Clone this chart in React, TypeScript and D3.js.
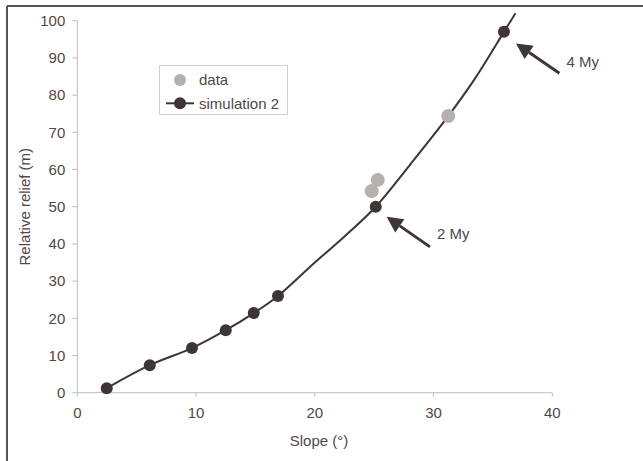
import React from "react";
import * as d3 from "d3";

const simSlope = [2.48, 6.1, 9.66, 12.5, 14.86, 16.9, 25.13, 35.93];
const simRelief = [1.2, 7.4, 12.0, 16.8, 21.4, 26.0, 50.0, 97.0];

const curveSlope = [2.48, 6.1, 9.66, 12.5, 14.86, 16.9, 20.0, 22.5, 25.13, 28.0, 31.2, 33.5, 35.93, 36.9];
const curveRelief = [1.2, 7.4, 12.0, 16.8, 21.4, 26.0, 35.0, 42.0, 50.0, 61.2, 74.2, 84.5, 97.0, 102.0];

const dataSlope = [24.79, 25.3, 31.24];
const dataRelief = [54.2, 57.2, 74.4];

const xTicks = [0, 10, 20, 30, 40];
const yTicks = [0, 10, 20, 30, 40, 50, 60, 70, 80, 90, 100];

const annLabels = ["2 My", "4 My"];
const annTipSlope = [26.05, 36.94];
const annTipRelief = [47.3, 93.9];
const annTailSlope = [29.7, 40.6];
const annTailRelief = [39.2, 85.9];
const annTextSlope = [30.3, 41.2];
const annTextRelief = [42.6, 89.0];

const W = 643;
const H = 461;
const FONT = "'Liberation Sans', Arial, sans-serif";
const TXT = "#4f4848";
const DARK = "#3e3536";
const GREY = "#b7b0ac";
const AXIS = "#bdbdbd";
const FS = 15;

export default function App() {
  const x = d3.scaleLinear().domain([0, 40]).range([77.3, 552.3]);
  const y = d3.scaleLinear().domain([0, 100]).range([392.7, 20.7]);

  const line = d3
    .line<number>()
    .x((i) => x(curveSlope[i]))
    .y((i) => y(curveRelief[i]))
    .curve(d3.curveCatmullRom.alpha(0.5));
  const path = line(curveSlope.map((_, i) => i)) || "";

  const arrows = annLabels.map((lab, i) => {
    const x1 = x(annTailSlope[i]);
    const y1 = y(annTailRelief[i]);
    const x2 = x(annTipSlope[i]);
    const y2 = y(annTipRelief[i]);
    const ang = Math.atan2(y2 - y1, x2 - x1);
    const hl = 16;
    const hw = 8;
    const bx = x2 - hl * Math.cos(ang);
    const by = y2 - hl * Math.sin(ang);
    const px = -Math.sin(ang);
    const py = Math.cos(ang);
    const head = `M${x2},${y2}L${bx + hw * px},${by + hw * py}L${bx - hw * px},${by - hw * py}Z`;
    return { lab, x1, y1, bx, by, head, tx: x(annTextSlope[i]), ty: y(annTextRelief[i]) };
  });

  return (
    <svg width={W} height={H} style={{ position: "absolute", left: 0, top: 0, background: "#fff" }}>
      <rect x={0} y={0} width={W} height={H} fill="#fff" />
      {/* frame */}
      <line x1={7} y1={6} x2={W} y2={6} stroke="#555" strokeWidth={2} />
      <line x1={7} y1={6} x2={7} y2={H} stroke="#555" strokeWidth={2} />

      {/* axes */}
      <line x1={x(0)} y1={y(0)} x2={x(0)} y2={y(100)} stroke={AXIS} strokeWidth={1} />
      <line x1={x(0)} y1={y(0)} x2={x(40)} y2={y(0)} stroke={AXIS} strokeWidth={1} />
      {yTicks.map((t) => (
        <g key={"y" + t}>
          <line x1={x(0) - 5} x2={x(0)} y1={y(t)} y2={y(t)} stroke={AXIS} />
          <text x={x(0) - 12} y={y(t)} dy="0.35em" textAnchor="end" fontFamily={FONT} fontSize={FS} fill={TXT}>
            {t}
          </text>
        </g>
      ))}
      {xTicks.map((t) => (
        <g key={"x" + t}>
          <line x1={x(t)} x2={x(t)} y1={y(0)} y2={y(0) + 4} stroke={AXIS} />
          <text x={x(t)} y={413} dy="0.35em" textAnchor="middle" fontFamily={FONT} fontSize={FS} fill={TXT}>
            {t}
          </text>
        </g>
      ))}
      <text x={319} y={441} dy="0.35em" textAnchor="middle" fontFamily={FONT} fontSize={FS} fill={TXT}>
        Slope (°)
      </text>
      <text
        transform={`translate(25,${y(50)}) rotate(-90)`}
        dy="0.35em"
        textAnchor="middle"
        fontFamily={FONT}
        fontSize={FS}
        fill={TXT}
      >
        Relative relief (m)
      </text>

      {/* curve */}
      <path d={path} fill="none" stroke={DARK} strokeWidth={2} />

      {/* data points */}
      {dataSlope.map((s, i) => (
        <circle key={"d" + i} cx={x(s)} cy={y(dataRelief[i])} r={7} fill={GREY} />
      ))}

      {/* simulation markers */}
      {simSlope.map((s, i) => (
        <circle key={"s" + i} cx={x(s)} cy={y(simRelief[i])} r={6} fill={DARK} />
      ))}

      {/* annotations */}
      {arrows.map((a) => (
        <g key={a.lab}>
          <line x1={a.x1} y1={a.y1} x2={a.bx} y2={a.by} stroke={DARK} strokeWidth={3} />
          <path d={a.head} fill={DARK} />
          <text x={a.tx} y={a.ty} dy="0.35em" fontFamily={FONT} fontSize={FS} fill={TXT}>
            {a.lab}
          </text>
        </g>
      ))}

      {/* legend */}
      <rect x={159.5} y={65.5} width={128} height={49} fill="#fff" stroke="#d0d0d0" strokeWidth={1} />
      <circle cx={180} cy={80} r={6} fill={GREY} />
      <text x={199} y={80} dy="0.35em" fontFamily={FONT} fontSize={FS} fill={TXT}>
        data
      </text>
      <line x1={166} x2={194} y1={103.3} y2={103.3} stroke={DARK} strokeWidth={2} />
      <circle cx={180} cy={103.3} r={6} fill={DARK} />
      <text x={199} y={103.3} dy="0.35em" fontFamily={FONT} fontSize={FS} fill={TXT}>
        simulation 2
      </text>
    </svg>
  );
}
